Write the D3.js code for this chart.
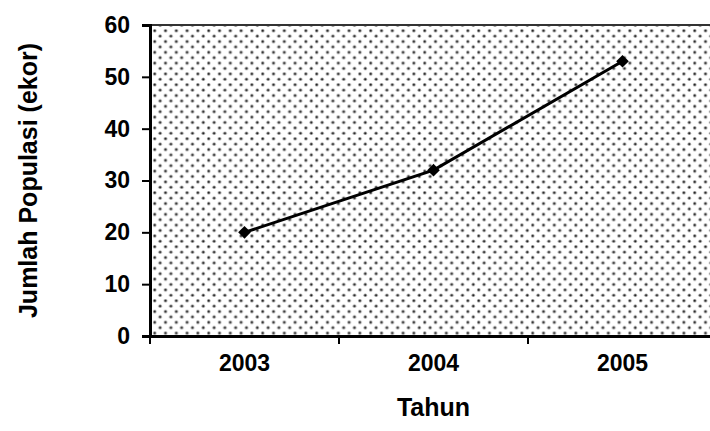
<!DOCTYPE html>
<html><head><meta charset="utf-8">
<script src="https://cdn.jsdelivr.net/npm/d3@7"></script>
<style>body{margin:0;background:#fff}svg{display:block}text{font-family:"Liberation Sans",Arial,sans-serif;font-weight:bold;fill:#000}</style>
</head><body><svg id="c" width="710" height="431"></svg>
<script>
const categories = ["2003","2004","2005"];
const values = [20, 32, 53];
const yTicks = [0,10,20,30,40,50,60];
const xTitle = "Tahun";
const yTitle = "Jumlah Populasi (ekor)";

const svg = d3.select("#c");
const L = 150, R = 717, T = 25, B = 336;
const x = d3.scaleBand().domain(categories).range([L, R]).padding(0);
const y = d3.scaleLinear().domain([0, 60]).range([B, T]);

const defs = svg.append("defs");
const pat = defs.append("pattern").attr("id","dots").attr("patternUnits","userSpaceOnUse")
  .attr("width",10.8).attr("height",10.8).attr("x",L+2).attr("y",T+3);
pat.append("rect").attr("width",10.8).attr("height",10.8).attr("fill","#fff");
pat.append("circle").attr("cx",2.7).attr("cy",2.7).attr("r",1.8).attr("fill","#999");
pat.append("circle").attr("cx",8.1).attr("cy",8.1).attr("r",1.8).attr("fill","#999");
pat.append("circle").attr("cx",2.7).attr("cy",2.7).attr("r",1.0).attr("fill","#222");
pat.append("circle").attr("cx",8.1).attr("cy",8.1).attr("r",1.0).attr("fill","#222");

svg.append("rect").attr("x",L).attr("y",T).attr("width",R-L).attr("height",B-T).attr("fill","url(#dots)");
svg.append("line").attr("x1",L).attr("x2",R).attr("y1",T).attr("y2",T).attr("stroke","#333").attr("stroke-width",2);

const yAxis = svg.append("g").attr("transform",`translate(${L},0)`)
  .call(d3.axisLeft(y).tickValues(yTicks).tickSize(8).tickPadding(12));
const xAxis = svg.append("g").attr("transform",`translate(0,${B})`)
  .call(d3.axisBottom(x).tickSize(0).tickPadding(19));
const bounds = categories.map(c => x(c)).concat([x(categories[categories.length-1]) + x.bandwidth()]);
xAxis.selectAll(".bt").data(bounds).enter().append("line").attr("class","bt")
  .attr("x1",d=>d).attr("x2",d=>d).attr("y1",0).attr("y2",8).attr("stroke","#000").attr("stroke-width",2);
[yAxis, xAxis].forEach(g => {
  g.select(".domain").attr("stroke","#000").attr("stroke-width",3);
  g.selectAll(".tick line").attr("stroke","#000").attr("stroke-width",2);
  g.selectAll("text").style("font-size","23px").style("font-family","Liberation Sans, Arial, sans-serif").style("font-weight","bold").attr("fill","#000");
});
xAxis.selectAll(".tick text").attr("dy","0.71em");

const pts = categories.map((c,i)=>[x(c)+x.bandwidth()/2, y(values[i])]);
svg.append("path").attr("d", d3.line()(pts)).attr("fill","none").attr("stroke","#000").attr("stroke-width",3);
svg.selectAll(".m").data(pts).enter().append("path").attr("class","m")
  .attr("transform",d=>`translate(${d[0]},${d[1]}) rotate(45)`)
  .attr("d", d3.symbol().type(d3.symbolSquare).size(80)).attr("fill","#000");

svg.append("text").attr("x",(L+R)/2).attr("y",416).attr("text-anchor","middle").style("font-size","25px").text(xTitle);
svg.append("text").attr("transform",`translate(37,${(T+B)/2}) rotate(-90)`).attr("text-anchor","middle").style("font-size","25px").text(yTitle);
</script></body></html>
